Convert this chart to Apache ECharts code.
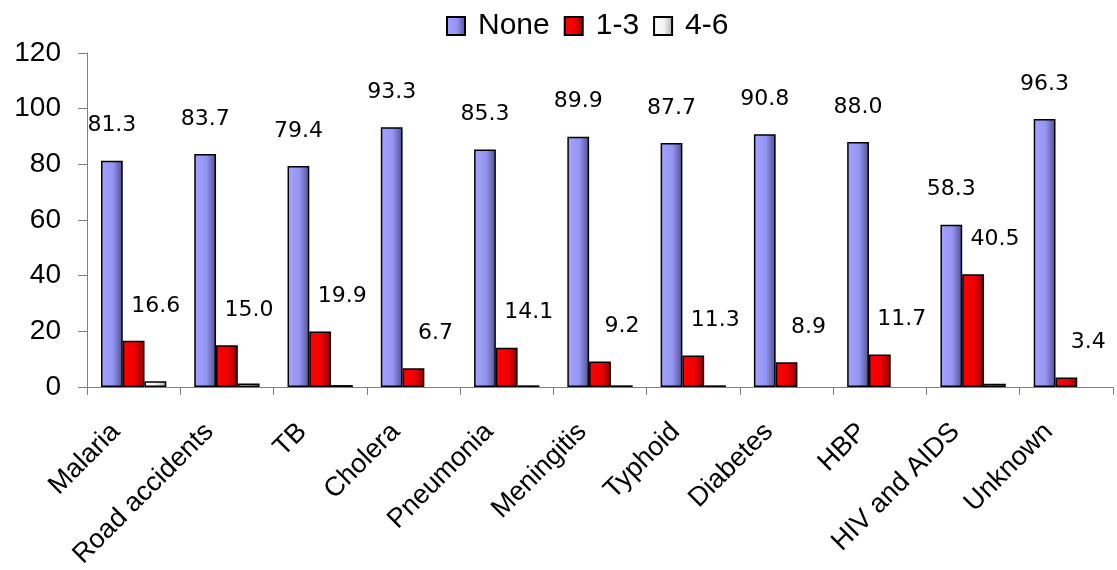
<!DOCTYPE html>
<html>
<head>
<meta charset="utf-8">
<script src="https://cdn.jsdelivr.net/npm/echarts@6/dist/echarts.min.js"></script>
<style>
  html, body { margin: 0; padding: 0; background: #fff; }
  #chart { width: 1117px; height: 570px; }
</style>
</head>
<body>
<div id="chart"></div>
<script>
// categories and series values
const categories = ["Malaria", "Road accidents", "TB", "Cholera", "Pneumonia", "Meningitis",
  "Typhoid", "Diabetes", "HBP", "HIV and AIDS", "Unknown"];
const noneValues = [81.3, 83.7, 79.4, 93.3, 85.3, 89.9, 87.7, 90.8, 88.0, 58.3, 96.3];
const oneToThree = [16.6, 15.0, 19.9, 6.7, 14.1, 9.2, 11.3, 8.9, 11.7, 40.5, 3.4];
const fourToSix = [2.1, 1.3, 0.7, 0, 0.6, 0.6, 0.6, 0, 0, 1.2, 0];
const seriesNames = ["None", "1-3", "4-6"];

const chart = echarts.init(document.getElementById("chart"));

// excel-like shaded bars
function shade(c0, c1, c2) {
  return new echarts.graphic.LinearGradient(0, 0, 1, 0, [
    { offset: 0, color: c0 },
    { offset: 0.55, color: c1 },
    { offset: 1, color: c2 },
  ]);
}

// zero bars are not drawn in the original
const noZero = (arr) => arr.map((v) => (v === 0 ? null : v));

const labelFont = { fontFamily: "DejaVu Sans", fontSize: 22, color: "#000" };

const option = {
  animation: false,
  legend: {
    top: 6,
    left: 441,
    icon: "rect",
    itemWidth: 18,
    itemHeight: 18,
    itemGap: 14,
    textStyle: {
      fontFamily: "Liberation Sans",
      fontSize: 30,
      color: "#000",
      padding: [0, 0, 0, 8],
    },
    data: seriesNames,
  },
  grid: {
    left: 87, right: 4, top: 53, bottom: 183,
    containLabel: false,
    outerBoundsMode: "none",
  },
  xAxis: {
    type: "category",
    data: categories,
    axisLine: { lineStyle: { color: "#808080", width: 1 } },
    axisTick: { show: true, length: 8, lineStyle: { color: "#808080" } },
    axisLabel: {
      rotate: 45,
      interval: 0,
      margin: 23,
      verticalAlign: "middle",
      padding: [0, 25, 0, 0],
      fontFamily: "Liberation Sans",
      fontSize: 27,
      color: "#000",
    },
  },
  yAxis: {
    type: "value",
    min: 0,
    max: 120,
    interval: 20,
    splitLine: { show: false },
    axisLine: { show: true, lineStyle: { color: "#808080", width: 1 } },
    axisTick: { show: true, length: 9, lineStyle: { color: "#808080" } },
    axisLabel: {
      margin: 26,
      fontFamily: "Liberation Sans",
      fontSize: 28,
      color: "#000",
    },
  },
  series: [
    {
      name: seriesNames[0],
      type: "bar",
      data: noneValues,
      barGap: "0%",
      barCategoryGap: "30%",
      itemStyle: {
        color: shade("#a4a4ff", "#9494f2", "#50508e"),
        borderColor: "#000",
        borderWidth: 1.5,
      },
      label: {
        show: true,
        position: "top",
        distance: 24,
        formatter: (p) => p.value.toFixed(1),
        ...labelFont,
      },
    },
    {
      name: seriesNames[1],
      type: "bar",
      data: oneToThree,
      itemStyle: {
        color: shade("#ff0000", "#f00000", "#8c0000"),
        borderColor: "#000",
        borderWidth: 1.5,
      },
      label: {
        show: true,
        position: "top",
        distance: 24,
        offset: [22, 0],
        formatter: (p) => p.value.toFixed(1),
        ...labelFont,
      },
    },
    {
      name: seriesNames[2],
      type: "bar",
      data: noZero(fourToSix),
      itemStyle: {
        color: shade("#ffffff", "#f2f2f2", "#a8a8a8"),
        borderColor: "#000",
        borderWidth: 1.5,
      },
    },
  ],
};

chart.setOption(option);
</script>
</body>
</html>
